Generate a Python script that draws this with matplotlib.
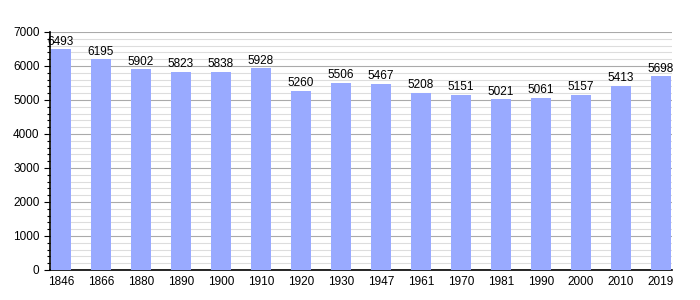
import matplotlib.pyplot as plt
import numpy as np
from matplotlib.ticker import MultipleLocator

years = ["1846", "1866", "1880", "1890", "1900", "1910", "1920", "1930",
         "1947", "1961", "1970", "1981", "1990", "2000", "2010", "2019"]
population = [6493, 6195, 5902, 5823, 5838, 5928, 5260, 5506,
              5467, 5208, 5151, 5021, 5061, 5157, 5413, 5698]

plt.rcParams['font.family'] = ['Liberation Sans', 'DejaVu Sans']

fig = plt.figure(figsize=(7, 3), dpi=100)
ax = fig.add_axes([50 / 700, 30 / 300, 622 / 700, 238 / 300])

x = np.arange(len(years))
bars = ax.bar(x, population, width=0.5, color='#99aaff', zorder=3)

# Value labels above bars
for bar, val in zip(bars, population):
    ax.text(bar.get_x() + bar.get_width() / 2, val + 50, str(val),
            ha='center', va='bottom', fontsize=8.5, zorder=4)

ax.set_xlim(-0.275, len(years) - 1 + 0.275)
ax.set_ylim(0, 7000)
ax.set_xticks(x)
ax.set_xticklabels(years, fontsize=8.5)
ax.yaxis.set_major_locator(MultipleLocator(1000))
ax.yaxis.set_minor_locator(MultipleLocator(200))
ax.tick_params(axis='y', labelsize=8.5, length=4, width=0.8)
ax.tick_params(axis='y', which='minor', length=2.5, width=0.8)
ax.tick_params(axis='x', length=0, pad=4)

# Grid lines
ax.grid(axis='y', which='major', color='#aaaaaa', linewidth=0.8, zorder=0)
ax.grid(axis='y', which='minor', color='#dddddd', linewidth=0.8, zorder=0)
ax.set_axisbelow(True)

for side in ['top', 'right']:
    ax.spines[side].set_visible(False)
ax.spines['left'].set_linewidth(1.2)
ax.spines['bottom'].set_linewidth(1.2)

plt.savefig('out.png', dpi=100)
plt.close()
